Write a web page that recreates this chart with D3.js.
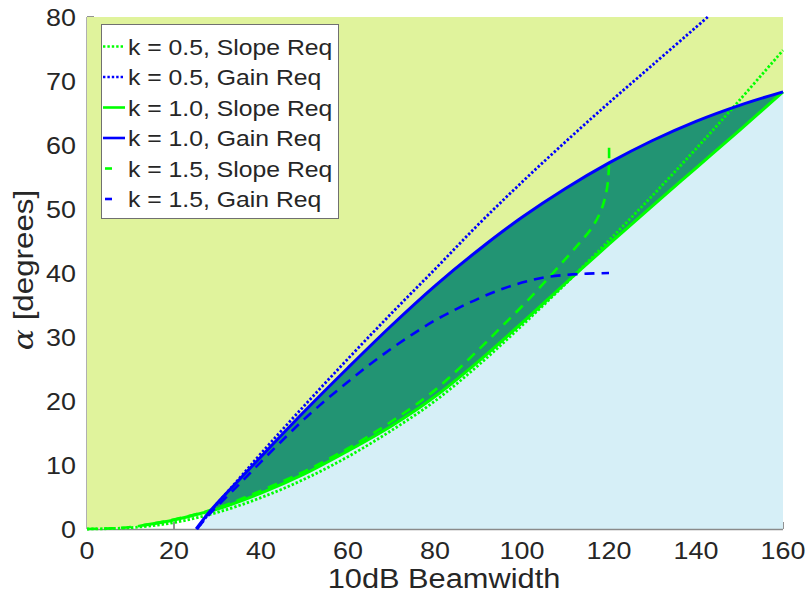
<!DOCTYPE html>
<html><head><meta charset="utf-8">
<script src="https://cdn.jsdelivr.net/npm/d3@7"></script>
<style>body{margin:0;background:#fff}svg{display:block}text{font-family:"Liberation Sans",Arial,sans-serif;fill:#262626}</style>
</head><body><svg id="c" width="809" height="607"></svg>
<script>
// ---- data ----
const xTicks = [0,20,40,60,80,100,120,140,160];
const yTicks = [0,10,20,30,40,50,60,70,80];

const slope10X = [0,10,13,20,28.3,30,40,50,60,70,80,90,100,110,120,130,140,150,160];
const slope10Y = [0,0.35,0.6,1.4,2.8,3.1,5.6,8.6,12.2,16.1,20.7,26.2,32.2,38.4,44.5,50.5,56.4,62.3,68.3];

const gain10X = [25.1,28.3,30,35,40,50,60,70,80,90,100,110,120,130,140,150,160];
const gain10Y = [0,2.8,4.1,7.7,11.3,18.4,25.2,31.8,38.0,43.6,48.7,53.2,57.2,60.7,63.7,66.2,68.3];

const slope05X = [0,10,20,30,40,50,60,70,80,90,100,110,120,130,140,150,160];
const slope05Y = [0,0.2,1.0,2.6,4.9,7.8,11.3,15.4,20.0,25.6,31.8,38.3,45.1,52.1,59.4,67.0,74.8];

const gain05X = [25.3,28,30,35,40,50,60,70,80,90,100,110,120,130,140,142.7];
const gain05Y = [0,2.4,4.0,7.9,11.8,19.3,26.6,33.7,40.6,47.6,54.2,60.5,66.6,72.5,78.4,80];

const slope15X = [0,10,20,30,40,50,60,70,80,90,95,100,105,110,113,116,118,119,119.7,120,120];
const slope15Y = [0,0.3,1.5,3.3,6.0,9.0,12.6,16.8,21.7,28.0,31.4,34.8,38.4,42.2,44.5,47.0,49.5,51.5,54.0,57.0,60.3];

const gain15X = [25.3,28,30,35,40,45,50,55,60,65,70,75,80,85,90,95,100,105,110,115,120];
const gain15Y = [0,2.2,3.6,7.0,10.5,13.9,17.2,20.2,23.0,25.7,28.2,30.5,32.6,34.4,36.0,37.4,38.5,39.3,39.7,39.9,40.0];

const crossX = 28.3; // where the k=1.0 gain and slope curves meet

const legendLabels = ["k = 0.5, Slope Req","k = 0.5, Gain Req","k = 1.0, Slope Req","k = 1.0, Gain Req","k = 1.5, Slope Req","k = 1.5, Gain Req"];

// ---- drawing ----
const svg = d3.select("#c");
const x = d3.scaleLinear().domain([0,160]).range([87,783]);
const y = d3.scaleLinear().domain([0,80]).range([529,17]);
const pts = (xs,ys)=>xs.map((v,i)=>[v,ys[i]]);
const S10 = pts(slope10X,slope10Y), G10 = pts(gain10X,gain10Y);
const S05 = pts(slope05X,slope05Y), G05 = pts(gain05X,gain05Y);
const S15 = pts(slope15X,slope15Y), G15 = pts(gain15X,gain15Y);
const smooth = d3.line().x(d=>x(d[0])).y(d=>y(d[1])).curve(d3.curveCatmullRom.alpha(0.5));
const lin = d3.line().x(d=>x(d[0])).y(d=>y(d[1]));
function poly(pieces){ return pieces.map((p,i)=>{const s=(p.smooth?smooth:lin)(p.d); return i?("L"+s.slice(1)):s;}).join("")+"Z"; }
function widen(sel,k){ sel.each(function(){ const L=this.getComputedTextLength(); this.setAttribute("textLength",L*k); this.setAttribute("lengthAdjust","spacingAndGlyphs"); }); }

// ticks (beneath fills)
const tk = svg.append("g");
tk.selectAll("line.xt").data(xTicks).join("line").attr("x1",d=>x(d)).attr("x2",d=>x(d)).attr("y1",y(0)).attr("y2",y(0)-7).attr("stroke","#262626").attr("stroke-width",1);
tk.selectAll("line.yt").data(yTicks).join("line").attr("x1",x(0)).attr("x2",x(0)+7).attr("y1",d=>y(d)).attr("y2",d=>y(d)).attr("stroke","#262626").attr("stroke-width",1);

// fills
const G10hi = G10.filter(d=>d[0]>=crossX), G10lo = G10.filter(d=>d[0]<=crossX);
const S10hi = S10.filter(d=>d[0]>=crossX), S10lo = S10.filter(d=>d[0]<=crossX);
svg.append("path").attr("fill","#e0f39c").attr("d",poly([
  {d:[[0,80],[160,80]]},{d:G10hi.slice().reverse(),smooth:1},{d:S10lo.slice().reverse(),smooth:1}]));
svg.append("path").attr("fill","#d6eff7").attr("d",poly([
  {d:[[G10[0][0],0]]},{d:G10lo,smooth:1},{d:S10hi,smooth:1},{d:[[160,0]]}]));
svg.append("path").attr("fill","#229473").attr("d",poly([
  {d:G10hi,smooth:1},{d:S10hi.slice().reverse(),smooth:1}]));

// axis lines
svg.append("line").attr("x1",x(0)).attr("x2",x(160)).attr("y1",y(0)+0.5).attr("y2",y(0)+0.5).attr("stroke","#8a8a8a").attr("stroke-width",1.5);
svg.append("line").attr("x1",x(0)-0.5).attr("x2",x(0)-0.5).attr("y1",y(0)).attr("y2",y(80)).attr("stroke","#b0b0b0").attr("stroke-width",1);

// curves
const G="#00ff00", B="#0000ff";
const dot="2.4,2", dash="10,7";
const series = [
  {d:S05,c:G,da:dot,w:2.8},{d:G05,c:B,da:dot,w:2.8},
  {d:S10.filter(p=>p[0]>=12),c:G,da:null,w:3},{d:G10,c:B,da:null,w:3},
  {d:S15,c:G,da:dash},{d:G15,c:B,da:dash}
];
const drawOrder=[2,0,4,1,5,3];
drawOrder.forEach(i=>{const s=series[i];
  svg.append("path").attr("d",smooth(s.d)).attr("fill","none").attr("stroke",s.c).attr("stroke-width",s.w||2.6)
   .attr("stroke-dasharray",s.da).attr("stroke-linejoin","round");
});

// tick labels
svg.selectAll("text.xl").data(xTicks).join("text").attr("class","xl").attr("x",d=>x(d)).attr("y",559)
  .attr("text-anchor","middle").attr("font-size",24).text(d=>d).call(widen,1.12);
svg.selectAll("text.yl").data(yTicks).join("text").attr("class","yl").attr("x",76).attr("y",d=>y(d)+8.5)
  .attr("text-anchor","end").attr("font-size",24).text(d=>d).call(widen,1.12);

// axis titles
svg.append("text").attr("x",444).attr("y",588).attr("text-anchor","middle").attr("font-size",27).text("10dB Beamwidth").call(widen,1.14);
const yl = svg.append("text").attr("transform","translate(33,270) rotate(-90)").attr("text-anchor","middle").attr("font-size",27);
yl.append("tspan").attr("font-family","DejaVu Serif").attr("font-style","italic").text("α");
yl.append("tspan").text(" [degrees]");
widen(yl,1.16);

// legend
const lg = svg.append("g");
lg.append("rect").attr("x",101.5).attr("y",24.5).attr("width",237).attr("height",194).attr("fill","#fff").attr("stroke","#707070").attr("stroke-width",1);
const rowY = i=>46.5+i*30.5;
series.forEach((s,i)=>{
  const isDash = s.da===dash;
  lg.append("line").attr("x1",isDash?105:103).attr("x2",isDash?112:125).attr("y1",rowY(i)).attr("y2",rowY(i))
    .attr("stroke",s.c).attr("stroke-width",2.6).attr("stroke-dasharray",s.da===dot?dot:null);
  lg.append("text").attr("x",128).attr("y",rowY(i)+8).attr("font-size",22.5).text(legendLabels[i]).call(widen,1.1);
});
</script></body></html>
